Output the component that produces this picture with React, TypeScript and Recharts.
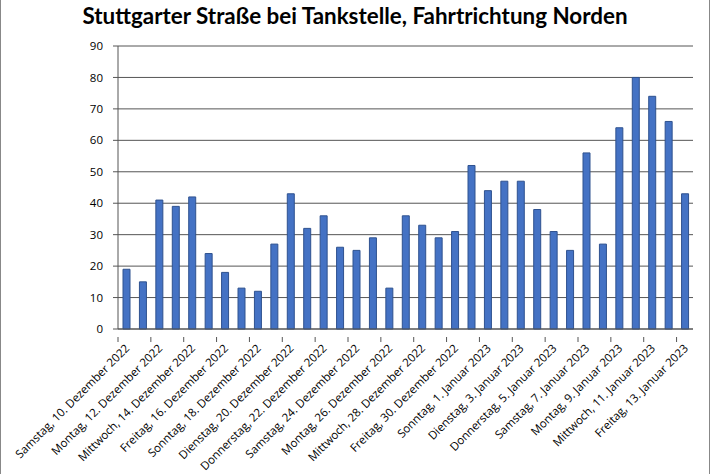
import { BarChart, Bar, XAxis, YAxis, CartesianGrid } from 'recharts';

const days = [
  'Samstag, 10. Dezember 2022',
  'Sonntag, 11. Dezember 2022',
  'Montag, 12. Dezember 2022',
  'Dienstag, 13. Dezember 2022',
  'Mittwoch, 14. Dezember 2022',
  'Donnerstag, 15. Dezember 2022',
  'Freitag, 16. Dezember 2022',
  'Samstag, 17. Dezember 2022',
  'Sonntag, 18. Dezember 2022',
  'Montag, 19. Dezember 2022',
  'Dienstag, 20. Dezember 2022',
  'Mittwoch, 21. Dezember 2022',
  'Donnerstag, 22. Dezember 2022',
  'Freitag, 23. Dezember 2022',
  'Samstag, 24. Dezember 2022',
  'Sonntag, 25. Dezember 2022',
  'Montag, 26. Dezember 2022',
  'Dienstag, 27. Dezember 2022',
  'Mittwoch, 28. Dezember 2022',
  'Donnerstag, 29. Dezember 2022',
  'Freitag, 30. Dezember 2022',
  'Samstag, 31. Dezember 2022',
  'Sonntag, 1. Januar 2023',
  'Montag, 2. Januar 2023',
  'Dienstag, 3. Januar 2023',
  'Mittwoch, 4. Januar 2023',
  'Donnerstag, 5. Januar 2023',
  'Freitag, 6. Januar 2023',
  'Samstag, 7. Januar 2023',
  'Sonntag, 8. Januar 2023',
  'Montag, 9. Januar 2023',
  'Dienstag, 10. Januar 2023',
  'Mittwoch, 11. Januar 2023',
  'Donnerstag, 12. Januar 2023',
  'Freitag, 13. Januar 2023',
];

const counts = [
  19, 15, 41, 39, 42, 24, 18, 13, 12, 27, 43, 32, 36, 26, 25, 29, 13, 36,
  33, 29, 31, 52, 44, 47, 47, 38, 31, 25, 56, 27, 64, 80, 74, 66, 43,
];

const yTicks = [0, 10, 20, 30, 40, 50, 60, 70, 80, 90];

const data = days.map((day, i) => ({ day, count: counts[i] }));

const W = 708;
const H = 474;
const margin = { top: 46, right: 16, bottom: 0, left: 77 };
const band = (W - 117 - margin.right) / days.length;

const font = '"Open Sans", sans-serif';

function DayTick({ x, y, payload }: any) {
  return (
    <g transform={`translate(${x},${y})`}>
      <line x1={-band / 2} y1={0} x2={-band / 2} y2={5} stroke="#555" />
      <text
        x={4}
        y={12}
        textAnchor="end"
        transform="rotate(-45 4 12)"
        fontSize={11.5}
        fontFamily={font}
        fill="#000"
      >
        {payload.value}
      </text>
    </g>
  );
}

export default function App() {
  return (
    <div
      style={{
        position: 'absolute',
        left: 0,
        top: 0,
        width: W,
        height: H,
        borderLeft: '1px solid #888',
        borderRight: '1px solid #888',
        background: '#fff',
      }}
    >
      <div
        style={{
          position: 'absolute',
          left: 0,
          top: 2,
          width: W,
          textAlign: 'center',
          fontFamily: 'Lato, sans-serif',
          fontWeight: 700,
          fontSize: 22.4,
        }}
      >
        Stuttgarter Straße bei Tankstelle, Fahrtrichtung Norden
      </div>
      <BarChart width={W} height={H} data={data} margin={margin}>
        <CartesianGrid vertical={false} stroke="#555" />
        <XAxis
          dataKey="day"
          interval={1}
          height={145}
          tickLine={false}
          axisLine={{ stroke: '#555' }}
          tick={<DayTick />}
        />
        <YAxis
          domain={[0, 90]}
          ticks={yTicks}
          width={40}
          tickSize={5}
          tickMargin={10}
          axisLine={{ stroke: '#555' }}
          tickLine={{ stroke: '#555' }}
          tick={{ fontSize: 11.5, fontFamily: font, fill: '#000' }}
        />
        <Bar
          dataKey="count"
          fill="#4472C4"
          stroke="#2F528F"
          strokeWidth={1}
          barSize={7}
          isAnimationActive={false}
        />
      </BarChart>
    </div>
  );
}
